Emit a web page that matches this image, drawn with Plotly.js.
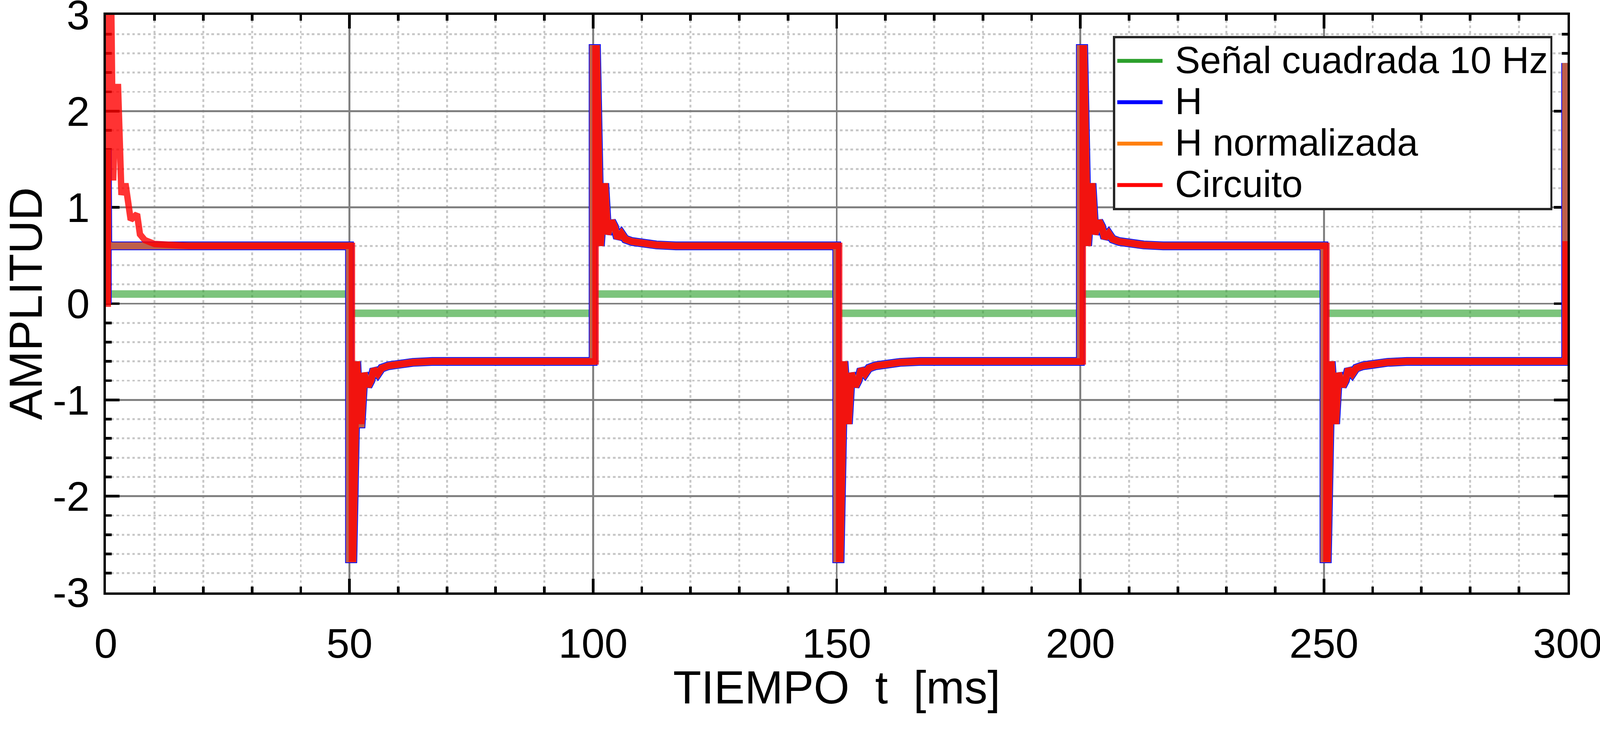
<!DOCTYPE html>
<html>
<head>
<meta charset="utf-8">
<script src="https://cdn.plot.ly/plotly-3.0.1.min.js"></script>
<style>html,body{margin:0;padding:0;background:#ffffff;overflow:hidden;}</style>
</head>
<body>
<div id="chart"></div>
<script>
// ---------------- data ----------------
// Square wave 10 Hz (amplitude 0.1)
const tiempoSenal = [0, 50, 50, 100, 100, 150, 150, 200, 200, 250, 250, 300];
const senalCuadrada = [0.1, 0.1, -0.1, -0.1, 0.1, 0.1, -0.1, -0.1, 0.1, 0.1, -0.1, -0.1];

// H and H normalizada (ms)
const tiempoH = [
  0.3, 0.3, 0.4,
  50, 50, 50.7, 51.5, 52.1, 52.4, 53.0, 53.8, 54.4, 55.0, 55.8, 56.6, 58, 60, 63, 67,
  100, 100, 100.7, 101.5, 102.1, 102.4, 103.0, 103.8, 104.4, 105.0, 105.8, 106.6, 108, 110, 113, 117,
  150, 150, 150.7, 151.5, 152.1, 152.4, 153.0, 153.8, 154.4, 155.0, 155.8, 156.6, 158, 160, 163, 167,
  200, 200, 200.7, 201.5, 202.1, 202.4, 203.0, 203.8, 204.4, 205.0, 205.8, 206.6, 208, 210, 213, 217,
  250, 250, 250.7, 251.5, 252.1, 252.4, 253.0, 253.8, 254.4, 255.0, 255.8, 256.6, 258, 260, 263, 267,
  299.6, 299.6
];
const hValores = [
  0, 1.6, 0.6,
  0.6, -2.65, -2.65, -0.6, -1.25, -1.25, -0.72, -0.86, -0.8, -0.68, -0.73, -0.67, -0.645, -0.625, -0.61, -0.6,
  -0.6, 2.65, 2.65, 0.6, 1.25, 1.25, 0.72, 0.86, 0.8, 0.68, 0.73, 0.67, 0.645, 0.625, 0.61, 0.6,
  0.6, -2.65, -2.65, -0.6, -1.25, -1.25, -0.72, -0.86, -0.8, -0.68, -0.73, -0.67, -0.645, -0.625, -0.61, -0.6,
  -0.6, 2.65, 2.65, 0.6, 1.25, 1.25, 0.72, 0.86, 0.8, 0.68, 0.73, 0.67, 0.645, 0.625, 0.61, 0.6,
  0.6, -2.65, -2.65, -0.6, -1.25, -1.25, -0.72, -0.86, -0.8, -0.68, -0.73, -0.67, -0.645, -0.625, -0.61, -0.6,
  -0.6, 2.5
];
const hNormalizadaValores = [
  0, 1.6, 0.6,
  0.6, -2.65, -2.65, -0.6, -1.25, -1.25, -0.72, -0.86, -0.8, -0.68, -0.73, -0.67, -0.645, -0.625, -0.61, -0.6,
  -0.6, 2.65, 2.65, 0.6, 1.25, 1.25, 0.72, 0.86, 0.8, 0.68, 0.73, 0.67, 0.645, 0.625, 0.61, 0.6,
  0.6, -2.65, -2.65, -0.6, -1.25, -1.25, -0.72, -0.86, -0.8, -0.68, -0.73, -0.67, -0.645, -0.625, -0.61, -0.6,
  -0.6, 2.65, 2.65, 0.6, 1.25, 1.25, 0.72, 0.86, 0.8, 0.68, 0.73, 0.67, 0.645, 0.625, 0.61, 0.6,
  0.6, -2.65, -2.65, -0.6, -1.25, -1.25, -0.72, -0.86, -0.8, -0.68, -0.73, -0.67, -0.645, -0.625, -0.61, -0.6,
  -0.6, 2.5
];

// Circuito (ms)
const tiempoCircuito = [
  0, 0.4, 0.4, 1.0, 1.5, 2.1, 2.5, 3.2, 3.7, 4.1, 5.1, 6.4, 7.0, 8, 10, 13, 17,
  50.5, 50.5, 50.7, 51.5, 52.1, 52.4, 53.0, 53.8, 54.4, 55.0, 55.8, 56.6, 58, 60, 63, 67,
  100.5, 100.5, 100.7, 101.5, 102.1, 102.4, 103.0, 103.8, 104.4, 105.0, 105.8, 106.6, 108, 110, 113, 117,
  150.5, 150.5, 150.7, 151.5, 152.1, 152.4, 153.0, 153.8, 154.4, 155.0, 155.8, 156.6, 158, 160, 163, 167,
  200.5, 200.5, 200.7, 201.5, 202.1, 202.4, 203.0, 203.8, 204.4, 205.0, 205.8, 206.6, 208, 210, 213, 217,
  250.5, 250.5, 250.7, 251.5, 252.1, 252.4, 253.0, 253.8, 254.4, 255.0, 255.8, 256.6, 258, 260, 263, 267,
  299.6, 299.6
];
const circuitoValores = [
  0, 0, 3.6, 3.6, 1.28, 2.25, 2.25, 1.13, 1.22, 1.22, 0.87, 0.93, 0.72, 0.66, 0.62, 0.605, 0.6,
  0.6, -2.65, -2.65, -0.6, -1.25, -1.25, -0.72, -0.86, -0.8, -0.68, -0.73, -0.67, -0.645, -0.625, -0.61, -0.6,
  -0.6, 2.65, 2.65, 0.6, 1.25, 1.25, 0.72, 0.86, 0.8, 0.68, 0.73, 0.67, 0.645, 0.625, 0.61, 0.6,
  0.6, -2.65, -2.65, -0.6, -1.25, -1.25, -0.72, -0.86, -0.8, -0.68, -0.73, -0.67, -0.645, -0.625, -0.61, -0.6,
  -0.6, 2.65, 2.65, 0.6, 1.25, 1.25, 0.72, 0.86, 0.8, 0.68, 0.73, 0.67, 0.645, 0.625, 0.61, 0.6,
  0.6, -2.65, -2.65, -0.6, -1.25, -1.25, -0.72, -0.86, -0.8, -0.68, -0.73, -0.67, -0.645, -0.625, -0.61, -0.6,
  -0.6, 0.65
];

// Tick labels
const xTickVals = [0, 50, 100, 150, 200, 250, 300];
const xTickText = ['0', '50', '100', '150', '200', '250', '300'];
const yTickVals = [-3, -2, -1, 0, 1, 2, 3];
const yTickText = ['-3', '-2', '-1', '0', '1', '2', '3'];

const nombres = ['Señal cuadrada 10 Hz', 'H', 'H normalizada', 'Circuito'];
const colores = ['#2ca02c', '#0000ff', '#ff7f0e', '#ff0000'];

// ---------------- chart ----------------
const FONT = 'Liberation Sans, Arial, Helvetica, sans-serif';
// fit the 4243x1891 design into the actual viewport
const VW = window.innerWidth || 4243;
const VH = window.innerHeight || 1891;
const s = Math.min(VW / 4243, VH / 1891);
const p = function (v) { return v * s; };
const chartDiv = document.getElementById('chart');
chartDiv.style.width = p(4243) + 'px';
chartDiv.style.height = p(1891) + 'px';

const traces = [
  {x: tiempoSenal, y: senalCuadrada, type: 'scatter', mode: 'lines', showlegend: false,
   line: {color: 'rgba(44,160,44,0.62)', width: p(20)}, hoverinfo: 'skip'},
  {x: tiempoH, y: hValores, type: 'scatter', mode: 'lines', showlegend: false,
   line: {color: '#0000ff', width: p(23)}, hoverinfo: 'skip'},
  {x: tiempoH, y: hNormalizadaValores, type: 'scatter', mode: 'lines', showlegend: false,
   line: {color: 'rgba(255,127,14,0.75)', width: p(19)}, hoverinfo: 'skip'},
  {x: tiempoCircuito, y: circuitoValores, type: 'scatter', mode: 'lines', showlegend: false,
   line: {color: 'rgba(255,0,0,0.8)', width: p(17)}, hoverinfo: 'skip'}
];
// legend entries (opaque samples like the reference legend); they live on the
// label-only overlay axes so those axes are drawn
nombres.forEach(function (n, i) {
  traces.push({x: [null], y: [null], xaxis: 'x2', yaxis: 'y2', type: 'scatter', mode: 'lines', name:
    '<span style="font-size:' + p(100).toFixed(1) + 'px">\u00a0' + n + '</span>',
    line: {color: colores[i], width: p(16)}, showlegend: true, hoverinfo: 'skip'});
});

const commonAxis = {
  showline: true, linecolor: '#000000', linewidth: p(6), mirror: 'allticks',
  ticks: 'inside', ticklen: p(36), tickwidth: p(7), tickcolor: '#000000',
  showgrid: true, gridcolor: '#808080', gridwidth: p(5),
  zeroline: false, layer: 'below traces',
  showticklabels: false, automargin: true,
  fixedrange: true
};
const labelAxis = {
  ticks: 'outside', tickwidth: 1, tickcolor: 'rgba(0,0,0,0)',
  showline: false, showgrid: false, zeroline: false, automargin: false,
  ticklabeloverflow: 'allow', fixedrange: true,
  tickfont: {family: FONT, size: p(110), color: '#000000'}
};
const dash = p(7).toFixed(2) + 'px,' + p(7).toFixed(2) + 'px';

const layout = {
  width: p(4243), height: p(1891),
  paper_bgcolor: '#ffffff', plot_bgcolor: '#ffffff',
  margin: {l: p(281), r: p(86), t: p(39), b: p(320), pad: 0},
  font: {family: FONT, color: '#000000'},
  showlegend: true,
  xaxis: Object.assign({}, commonAxis, {
    range: [0, 300], tickmode: 'array', tickvals: xTickVals,
    minor: {dtick: 10, tick0: 0, ticks: 'inside', ticklen: p(16), tickwidth: p(7), tickcolor: '#000000',
            showgrid: true, gridcolor: '#c8c8c8', gridwidth: p(5), griddash: dash},
    title: {text: 'TIEMPO\u00a0 t\u00a0 [ms]', font: {family: FONT, size: p(122), color: '#000000'}, standoff: p(208)}
  }),
  yaxis: Object.assign({}, commonAxis, {
    range: [-3, 3], tickmode: 'array', tickvals: yTickVals,
    minor: {dtick: 0.2, tick0: 0, ticks: 'inside', ticklen: p(16), tickwidth: p(7), tickcolor: '#000000',
            showgrid: true, gridcolor: '#c8c8c8', gridwidth: p(5), griddash: dash},
    title: {text: 'AMPLITUD', font: {family: FONT, size: p(122), color: '#000000'}, standoff: p(167)}
  }),
  // label-only overlay axes (tick labels set slightly away from the frame)
  xaxis2: Object.assign({}, labelAxis, {
    overlaying: 'x', anchor: 'y', side: 'bottom', range: [0, 300],
    tickmode: 'array', tickvals: xTickVals, ticktext: xTickText, ticklen: p(40)
  }),
  yaxis2: Object.assign({}, labelAxis, {
    overlaying: 'y', anchor: 'x', side: 'left', range: [-3, 3],
    tickmode: 'array', tickvals: yTickVals, ticktext: yTickText, ticklen: p(20)
  }),
  legend: {
    x: 0.9897, xanchor: 'right', y: 0.9635, yanchor: 'top',
    bgcolor: '#ffffff', bordercolor: '#262626', borderwidth: p(6),
    font: {family: FONT, size: p(82), color: '#000000'},
    itemwidth: p(120), traceorder: 'normal'
  }
};

Plotly.newPlot('chart', traces, layout, {staticPlot: true, displayModeBar: false});
</script>
</body>
</html>
